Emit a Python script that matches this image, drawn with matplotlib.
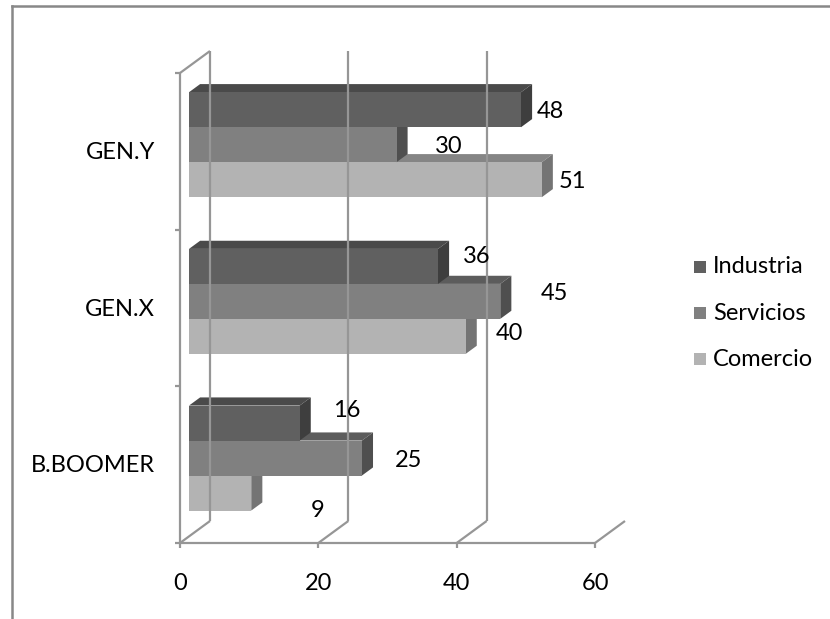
import matplotlib
matplotlib.use("Agg")
import matplotlib.pyplot as plt
from matplotlib.patches import Polygon, Rectangle
from matplotlib.lines import Line2D

# ---- data ----
categories = ["B.BOOMER", "GEN.X", "GEN.Y"]
series_names = ["Industria", "Servicios", "Comercio"]
industria = [16, 36, 48]
servicios = [25, 45, 30]
comercio = [9, 40, 51]
x_ticks = [0, 20, 40, 60]

# ---- style ----
front_colors = ["#606060", "#808080", "#b3b3b3"]
top_colors = ["#4a4a4a", "#5c5c5c", "#858585"]
side_colors = ["#3e3e3e", "#4f4f4f", "#747474"]
grid_color = "#969696"
FONT = ["Lato", "DejaVu Sans"]
FS = 17

# label offsets in pixels from the front end of each bar (Excel 3D placement quirks)
label_offsets = {
    ("Industria", 0): (33, 13), ("Servicios", 0): (33, -2), ("Comercio", 0): (59, -17),
    ("Industria", 1): (25, 10), ("Servicios", 1): (40, 8), ("Comercio", 1): (30, 3),
    ("Industria", 2): (16, -2), ("Servicios", 2): (38, -2), ("Comercio", 2): (17, -2),
}

W, H = 830, 619
fig = plt.figure(figsize=(W / 100, H / 100), dpi=100)
fig.patch.set_facecolor("white")

# front plane: x 0..60 -> px 180..595, y 0..3 -> px 543..73
ax_l, ax_r, ax_b, ax_t = 180, 595, 543, 73
ax = fig.add_axes([ax_l / W, (H - ax_b) / H, (ax_r - ax_l) / W, (ax_b - ax_t) / H])
ax.set_xlim(0, 60)
ax.set_ylim(0, 3)
ax.axis("off")

px_x = (ax_r - ax_l) / 60.0
px_y = (ax_b - ax_t) / 3.0
DX = 30 / px_x          # depth offset in data units
DY = 22 / px_y

# ---- walls / grid ----
lw = 1.6
def line(xs, ys, **kw):
    ax.add_line(Line2D(xs, ys, color=grid_color, lw=lw, clip_on=False,
                       solid_capstyle="butt", **kw))

for t in x_ticks[:-1]:
    line([t + DX, t + DX], [DY, 3 + DY])
line([0, 60], [0, 0])
for t in x_ticks:
    line([t, t + DX], [0, DY])
line([0, 0], [0, 3])
line([0, DX], [3, 3 + DY])
for t in x_ticks:
    line([t, t], [0, -5 / px_y])
for i in range(4):
    line([0, -5 / px_x], [i, i])

# ---- bars ----
bar_h = 35 / px_y
ofx, ofy = 0.3 * DX, 0.3 * DY
bdx, bdy = 0.37 * DX, 0.37 * DY
values = [industria, servicios, comercio]
for ci, cat in enumerate(categories):
    center = ci + 0.5
    for si in [2, 1, 0]:
        v = values[si][ci]
        y0 = center + (1 - si) * bar_h - bar_h / 2 + ofy
        x0 = ofx
        x1 = v + ofx
        ax.add_patch(Polygon([(x0, y0 + bar_h), (x1, y0 + bar_h),
                              (x1 + bdx, y0 + bar_h + bdy), (x0 + bdx, y0 + bar_h + bdy)],
                             closed=True, fc=top_colors[si], ec="none", clip_on=False))
        ax.add_patch(Polygon([(x1, y0), (x1 + bdx, y0 + bdy),
                              (x1 + bdx, y0 + bar_h + bdy), (x1, y0 + bar_h)],
                             closed=True, fc=side_colors[si], ec="none", clip_on=False))
        ax.add_patch(Rectangle((x0, y0), v, bar_h, fc=front_colors[si],
                               ec="none", clip_on=False))
        dxp, dyp = label_offsets[(series_names[si], ci)]
        ax.annotate(str(v), xy=(x1, y0 + bar_h / 2), xytext=(dxp, dyp),
                    textcoords="offset pixels", ha="left", va="center",
                    fontsize=FS, family=FONT, color="black", annotation_clip=False)

# ---- axis labels ----
for ci, cat in enumerate(categories):
    ax.text(-25 / px_x, ci + 0.5 - 1 / px_y, cat, ha="right", va="center",
            fontsize=FS, family=FONT, color="black", clip_on=False)
for t in x_ticks:
    ax.text(t, -40 / px_y, str(t), ha="center", va="center",
            fontsize=FS, family=FONT, color="black", clip_on=False)

# ---- legend ----
leg_y = [267, 313, 359]
for si, name in enumerate(series_names):
    yc = leg_y[si]
    fig.patches.append(Rectangle((694 / W, (H - yc - 6) / H), 12 / W, 12 / H,
                                 transform=fig.transFigure, fc=front_colors[si], ec="none"))
    fig.text(713 / W, (H - yc) / H, name, ha="left", va="center",
             fontsize=FS, family=FONT, color="black")

# ---- chart border ----
fig.add_artist(Line2D([12 / W, 12 / W], [0, (H - 6) / H], transform=fig.transFigure,
                      color="#888888", lw=1.8))
fig.add_artist(Line2D([12 / W, 1], [(H - 6) / H, (H - 6) / H], transform=fig.transFigure,
                      color="#888888", lw=1.8))

fig.savefig("out.png", dpi=100, facecolor="white")
